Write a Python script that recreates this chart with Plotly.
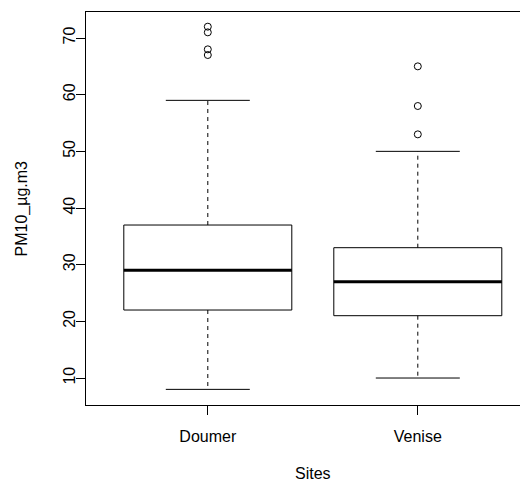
import plotly.graph_objects as go

sites = ["Doumer", "Venise"]
lower_whisker = [8, 10]
q1 = [22, 21]
median = [29, 27]
q3 = [37, 33]
upper_whisker = [59, 50]
outliers = [[67, 68, 71, 72], [53, 58, 65]]
y_ticks = [10, 20, 30, 40, 50, 60, 70]

FONT = "Liberation Sans, Arial, sans-serif"
BOX_HALF = 0.4
CAP_HALF = 0.2

fig = go.Figure()
for i, name in enumerate(sites):
    p = i + 1
    line = dict(color="black", width=1)
    # box
    fig.add_trace(go.Scatter(
        x=[p - BOX_HALF, p + BOX_HALF, p + BOX_HALF, p - BOX_HALF, p - BOX_HALF],
        y=[q1[i], q1[i], q3[i], q3[i], q1[i]],
        mode="lines", line=line, hoverinfo="skip", showlegend=False))
    # median
    fig.add_trace(go.Scatter(
        x=[p - BOX_HALF, p + BOX_HALF], y=[median[i], median[i]],
        mode="lines", line=dict(color="black", width=3), showlegend=False))
    # whiskers
    for a, b in [(q3[i], upper_whisker[i]), (q1[i], lower_whisker[i])]:
        fig.add_trace(go.Scatter(
            x=[p, p], y=[a, b], mode="lines",
            line=dict(color="black", width=1, dash="4px,4px"), showlegend=False))
    # caps
    for v in [upper_whisker[i], lower_whisker[i]]:
        fig.add_trace(go.Scatter(
            x=[p - CAP_HALF, p + CAP_HALF], y=[v, v], mode="lines",
            line=line, showlegend=False))
    # outliers
    fig.add_trace(go.Scatter(
        x=[p] * len(outliers[i]), y=outliers[i], mode="markers",
        marker=dict(symbol="circle-open", size=7, color="black", line=dict(width=1)),
        showlegend=False))

# page body has an 8px margin: figure is 520x475 placed at (8, 8)
fig.update_layout(
    width=520, height=475,
    margin=dict(l=78, r=0, t=4, b=78, autoexpand=False),
    paper_bgcolor="white", plot_bgcolor="white",
    font=dict(family=FONT, size=16, color="black"),
    xaxis=dict(range=[0.42, 0.42 + 442 / 210], tickvals=[1, 2], ticktext=sites,
               showgrid=False, zeroline=False, showline=True, mirror=True,
               linecolor="black", linewidth=1, ticks="outside", ticklen=9,
               tickcolor="black", tickfont=dict(size=16), automargin=False,
               ticklabelstandoff=8),
    yaxis=dict(range=[5.24, 74.59], tickvals=y_ticks, showgrid=False, zeroline=False,
               showline=True, linecolor="black", linewidth=1, ticks="outside",
               ticklen=9, tickcolor="black", tickangle=-90, tickfont=dict(size=16),
               automargin=False, ticklabelstandoff=-5),
    annotations=[
        dict(text="Sites", xref="x", yref="paper", x=1.5, y=0, yshift=-68,
             showarrow=False, xanchor="center", yanchor="middle",
             font=dict(size=16)),
        dict(text="PM10_µg.m3", xref="paper", yref="paper", x=0, y=0.5, xshift=-65,
             textangle=-90, showarrow=False, xanchor="center", yanchor="middle",
             font=dict(size=16)),
    ],
)

fig.write_html("out.html")
